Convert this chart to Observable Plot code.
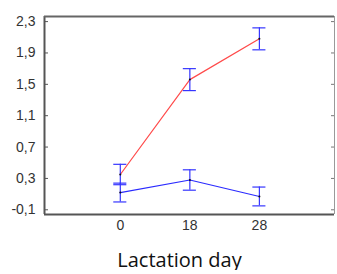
<!DOCTYPE html>
<html>
<head>
<meta charset="utf-8">
<script src="https://cdn.jsdelivr.net/npm/d3@7"></script>
<script src="https://cdn.jsdelivr.net/npm/@observablehq/plot@0.6"></script>
<style>
  html, body { margin: 0; padding: 0; background: #fff; overflow: hidden; }
  #chart { width: 337px; height: 240px; }
  #caption { font-family: "Open Sans", sans-serif; font-size: 20px; color: #111; text-align: center; width: 315px; padding-left: 22px; margin-top: 10px; line-height: 20px; }
</style>
</head>
<body>
<div id="chart"></div>
<div id="caption">Lactation day</div>
<script>
const days = [0, 18, 28];
const redMean = [0.35, 1.56, 2.08];
const redErr = [0.13, 0.14, 0.14];
const blueMean = [0.12, 0.28, 0.07];
const blueErr = [0.12, 0.13, 0.12];
const yTicks = [-0.1, 0.3, 0.7, 1.1, 1.5, 1.9, 2.3];
const xDomain = [-1.09, 3.08];   // category index space
const yDomain = [-0.16, 2.365];
const capHalf = 0.094;

const xIdx = days.map((d, i) => i);
const red = days.map((d, i) => ({i, day: d, mean: redMean[i], err: redErr[i]}));
const blue = days.map((d, i) => ({i, day: d, mean: blueMean[i], err: blueErr[i]}));
const all = [...red, ...blue];

const fmt = v => d3.format(".1f")(v).replace(".", ",").replace("−", "-");

const plot = Plot.plot({
  width: 337,
  height: 240,
  marginLeft: 44,
  marginRight: 3,
  marginTop: 16,
  marginBottom: 26,
  style: {fontFamily: "Arial, 'Liberation Sans', sans-serif", fontSize: "14px", color: "#333"},
  x: {domain: xDomain, label: null},
  y: {domain: yDomain, label: null},
  marks: [
    Plot.axisY(yTicks, {anchor: "left", tickSize: 0, tickPadding: 9, tickFormat: fmt, fontSize: 14, label: null}),
    Plot.axisY(yTicks, {anchor: "left", tickSize: -4, tickFormat: () => "", stroke: "#555", label: null}),
    Plot.axisY(yTicks, {anchor: "right", tickSize: -4, tickFormat: () => "", stroke: "#777", label: null}),
    Plot.axisX(xIdx, {anchor: "bottom", tickSize: 0, tickPadding: 6, fontSize: 14, tickFormat: i => String(days[i]), label: null}),
    Plot.ruleX([xDomain[1]], {stroke: "#999", strokeWidth: 1}),
    Plot.ruleX([xDomain[0]], {stroke: "#555", strokeWidth: 2}),
    Plot.ruleY([yDomain[0]], {stroke: "#555", strokeWidth: 2}),
    Plot.ruleY([yDomain[1]], {stroke: "#666", strokeWidth: 2}),
    Plot.line(red, {x: "i", y: "mean", stroke: "#ff4a4a", strokeWidth: 1.2}),
    Plot.line(blue, {x: "i", y: "mean", stroke: "#2a2aff", strokeWidth: 1.2}),
    Plot.ruleX(all, {x: "i", y1: d => d.mean - d.err, y2: d => d.mean + d.err, stroke: "#3535ff", strokeWidth: 1.2}),
    Plot.ruleY(all, {x1: d => d.i - capHalf, x2: d => d.i + capHalf, y: d => d.mean + d.err, stroke: "#3535ff", strokeWidth: 1.2}),
    Plot.ruleY(all, {x1: d => d.i - capHalf, x2: d => d.i + capHalf, y: d => d.mean - d.err, stroke: "#3535ff", strokeWidth: 1.2}),
    Plot.dot(all, {x: "i", y: "mean", r: 1, fill: "#111", stroke: "none"})
  ]
});
document.getElementById("chart").append(plot);
</script>
</body>
</html>
